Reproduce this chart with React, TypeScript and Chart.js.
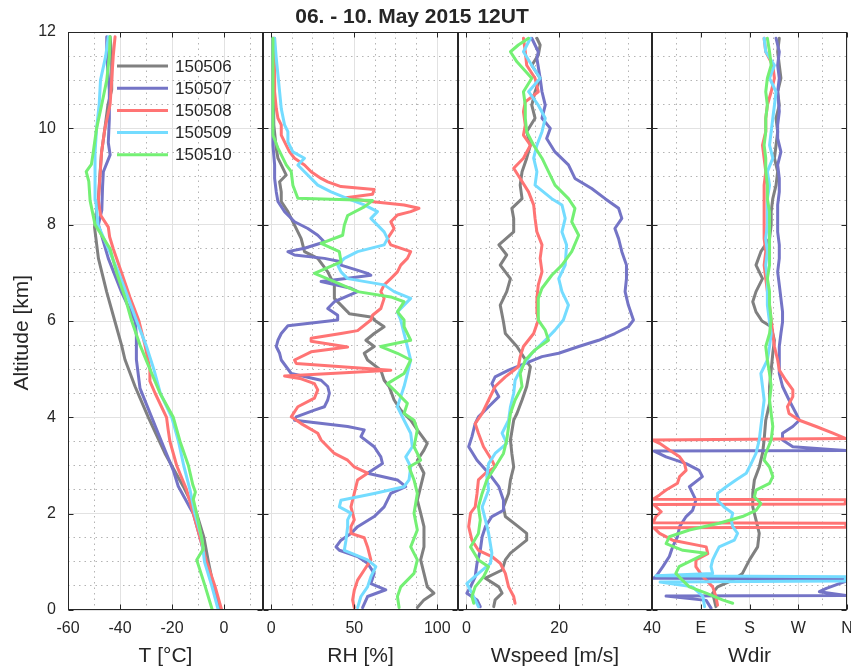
import React, { useEffect, useRef } from 'react';
import { Chart, registerables } from 'chart.js';

Chart.register(...registerables);

// ---------------- data ----------------
const TITLE = '06. - 10. May 2015 12UT';
const SERIES = ['150506', '150507', '150508', '150509', '150510'];
const COLORS = ['#808080', '#7474c6', '#ff7474', '#74dcff', '#74f074'];

const Y_TICKS = [0, 2, 4, 6, 8, 10, 12];
const Y_MINOR = [0.5, 1, 1.5, 2.5, 3, 3.5, 4.5, 5, 5.5, 6.5, 7, 7.5, 8.5, 9, 9.5, 10.5, 11, 11.5];

const T_TICKS = [-60, -40, -20, 0];
const T_MINOR = [-50, -30, -10, 10];
const RH_TICKS = [0, 50, 100];
const RH_MINOR = [12.5, 25, 37.5, 62.5, 75, 87.5];
const WS_TICKS = [0, 20, 40];
const WS_MINOR = [5, 10, 15, 25, 30, 35];
const WD_TICKS = [0, 90, 180, 270, 360];
const WD_LABELS = ['', 'E', 'S', 'W', 'N'];
const WD_MINOR = [45, 135, 225, 315];

// [altitude km, value]
const T_150506 = [[0,-1.5],[0.5,-4.1],[1,-6],[1.5,-7.7],[2,-10.5],[2.56,-15.6],[3.25,-22.7],[4,-29.1],[4.64,-34.2],[5.2,-38.1],[5.5,-39.4],[6,-42],[6.6,-45.1],[7.3,-48.3],[7.95,-49.8],[8.3,-49],[8.55,-48.3],[9.05,-47.7],[9.5,-47.1],[10,-45.8],[10.5,-44.6],[10.8,-43.2],[11.5,-43.2],[11.9,-43.8]];
const T_150507 = [[0,-1.5],[0.48,-4.1],[0.97,-6.7],[1.5,-9.2],[2,-11.8],[2.57,-17.6],[2.9,-19.5],[3.4,-23.3],[4,-27.8],[4.6,-32.3],[5.2,-33.7],[5.7,-33.7],[6,-34.2],[6.6,-39.4],[7.3,-44.5],[8,-48.3],[8.3,-47],[8.8,-46.7],[9.1,-46.4],[9.45,-43.8],[9.7,-44.5],[10.2,-44.1],[10.8,-44.1],[11.5,-45.1],[11.9,-45.1]];
const T_150508 = [[0,-0.9],[0.5,-3.5],[1,-6.7],[1.5,-9.2],[2,-11.8],[2.5,-14.4],[3,-18.2],[3.5,-20.8],[3.75,-21.5],[4,-22.1],[4.5,-26.5],[4.75,-28.5],[5,-28.5],[5.5,-30.4],[6,-32.7],[6.5,-36.2],[7,-39.4],[7.5,-42.6],[7.75,-44],[7.95,-44.5],[8.2,-47.5],[8.5,-48.3],[9,-47.7],[9.5,-47.1],[10,-45.8],[10.5,-43.8],[11,-43.2],[11.5,-42.6],[11.9,-41.9]];
const T_150509 = [[0,-2.2],[0.5,-4.7],[1,-7.5],[1.5,-8.6],[2,-11.2],[2.5,-13.1],[3,-15.5],[3.5,-17.5],[4,-20.1],[4.5,-24.5],[5,-27],[5.5,-30],[6,-33.6],[6.5,-37],[7,-40.5],[7.5,-44.5],[8,-48.5],[8.5,-49.3],[9,-49.6],[9.5,-49.6],[10,-49],[10.5,-48],[11,-47.5],[11.5,-45.5],[11.9,-44.5]];
const T_150510 = [[0,-4.5],[0.5,-7.3],[1.04,-10.5],[1.27,-7.9],[1.5,-8.6],[2,-10.5],[2.3,-11.8],[2.45,-11],[2.6,-12],[3,-13.7],[3.5,-16.9],[4,-19.5],[4.5,-24.6],[5,-28.5],[5.5,-32.3],[6,-35.5],[6.5,-38.1],[7,-41.3],[7.5,-43.8],[8,-49.6],[8.5,-51.5],[8.9,-52],[9.1,-53],[9.25,-51],[9.5,-50.3],[10,-49],[10.5,-47],[11,-45.1],[11.5,-44.1],[11.9,-43.8]];

const RH_150506 = [[0.05,88],[0.21,92],[0.35,98],[0.48,94],[0.76,92],[1.04,90],[1.31,92],[1.73,92],[2.01,90],[2.28,88],[2.56,90],[2.84,92],[3.11,88],[3.32,92],[3.46,94],[3.74,88],[3.94,84],[4.15,78],[4.36,74],[4.64,71],[4.77,68],[4.98,66],[5.19,58],[5.33,56],[5.47,62],[5.6,57],[5.74,62],[5.88,68],[6.02,62],[6.08,61],[6.15,47],[6.19,46],[6.47,38],[6.75,38],[7.02,34],[7.3,28],[7.44,20],[7.71,18],[7.99,14],[8.27,10],[8.48,6],[8.68,6],[8.89,5],[9.03,9],[9.24,6],[9.38,4],[9.58,3],[10.07,1.5],[11.87,1]];
const RH_150507 = [[0.05,55],[0.28,58],[0.42,69],[0.55,60],[0.76,62],[0.97,58],[1.11,52],[1.24,41],[1.31,39],[1.45,42],[1.59,48],[1.73,52],[1.94,62],[2.14,68],[2.28,70],[2.42,72],[2.56,81],[2.7,76],[2.84,58],[3.04,67],[3.18,66],[3.39,62],[3.6,54],[3.74,56],[3.81,46],[3.94,14],[4.01,15],[4.15,26],[4.22,32],[4.36,34],[4.5,35],[4.64,34],[4.77,30],[4.91,12],[5.05,9],[5.19,6],[5.33,5],[5.47,3],[5.6,4],[5.74,6],[5.9,10],[6.02,40],[6.12,40],[6.26,34],[6.4,38],[6.61,52],[6.68,48],[6.82,30],[6.88,45],[6.95,60],[6.99,58],[7.16,42],[7.23,42],[7.3,32],[7.37,14],[7.44,10],[7.51,20],[7.64,32],[7.78,28],[7.92,22],[8.06,14],[8.27,8],[8.48,4],[8.68,3],[8.96,2],[9.24,2],[9.65,1],[11.87,1]];
const RH_150508 = [[0.05,50],[0.21,49],[0.41,50],[0.62,52],[0.83,56],[1.04,60],[1.31,58],[1.5,56],[1.59,48],[1.73,48],[1.87,50],[2.14,48],[2.42,50],[2.7,52],[2.84,58],[2.97,50],[3.11,46],[3.25,38],[3.39,34],[3.53,30],[3.67,28],[3.87,18],[4.01,12],[4.22,16],[4.4,26],[4.57,28],[4.7,26],[4.8,18],[4.86,8],[4.98,72],[5.12,15],[5.19,14],[5.36,24],[5.46,46],[5.58,24],[5.64,24],[5.74,42],[5.8,52],[6.02,60],[6.12,61],[6.26,66],[6.47,68],[6.61,66],[6.75,68],[6.88,72],[7.02,76],[7.16,78],[7.3,82],[7.44,84],[7.58,72],[7.71,70],[7.92,74],[8.06,72],[8.2,76],[8.27,84],[8.34,89],[8.41,80],[8.48,60],[8.56,45],[8.63,61],[8.73,62],[8.79,42],[8.89,34],[8.96,30],[9.1,24],[9.24,20],[9.38,14],[9.51,11],[9.72,8],[9.86,6],[10.07,6],[10.21,4],[10.41,3],[10.76,2],[11.87,2]];
const RH_150509 = [[0.05,52],[0.28,54],[0.48,58],[0.69,60],[0.9,63],[1.04,58],[1.24,44],[1.45,45],[1.73,46],[1.87,46],[2.01,48],[2.14,41],[2.28,42],[2.42,62],[2.56,80],[2.7,83],[2.97,84],[3.18,81],[3.39,85],[3.67,84],[3.94,80],[4.22,76],[4.43,78],[4.64,80],[4.91,82],[5.19,84],[5.47,82],[5.74,80],[6.02,78],[6.19,76],[6.33,80],[6.47,84],[6.61,74],[6.75,68],[6.88,46],[7.02,42],[7.16,40],[7.3,44],[7.44,52],[7.58,68],[7.71,70],[7.85,68],[7.99,64],[8.13,60],[8.27,64],[8.41,56],[8.54,46],[8.68,36],[8.82,28],[8.96,24],[9.1,20],[9.24,16],[9.38,20],[9.51,13],[9.72,10],[9.93,10],[10.07,8],[10.41,6],[10.76,5],[11.11,4],[11.45,3],[11.87,2]];
const RH_150510 = [[0.05,77],[0.28,76],[0.48,78],[0.76,86],[1.04,88],[1.31,84],[1.66,88],[2.01,86],[2.42,88],[2.7,86],[2.97,83],[3.11,90],[3.39,86],[3.74,88],[3.94,86],[4.08,80],[4.29,82],[4.5,76],[4.7,70],[4.91,80],[5.19,84],[5.33,76],[5.47,66],[5.6,84],[5.88,80],[6.02,80],[6.19,76],[6.4,80],[6.5,72],[6.61,52],[6.82,38],[6.99,26],[7.23,42],[7.44,41],[7.61,30],[7.78,43],[7.99,44],[8.19,46],[8.37,56],[8.5,61],[8.55,16],[8.82,13],[9.1,12],[9.24,9],[9.59,4],[9.86,1],[11.87,1]];

const WS_150506 = [[0.07,5.9],[0.21,6.2],[0.35,7.7],[0.48,7],[0.66,4.1],[0.83,7.7],[1.04,8.4],[1.18,9.5],[1.45,13],[1.59,13],[1.73,11.2],[1.94,8.4],[2.14,8],[2.42,9.1],[2.7,9.5],[2.97,10.2],[3.25,9.8],[3.53,9.5],[3.94,10.2],[4.08,10.9],[4.36,12],[4.64,13],[4.84,13.4],[5.05,13.8],[5.26,12.3],[5.47,10.9],[5.74,8.4],[5.98,8],[6.33,7.3],[6.61,8.7],[6.88,9.5],[7.16,7.3],[7.37,8.7],[7.58,7],[7.85,10.2],[8.13,10.2],[8.34,9.8],[8.54,12],[8.82,11.6],[9.1,12],[9.38,13],[9.65,13.8],[9.93,13],[10.21,14.8],[10.48,14.1],[10.76,14.8],[11.04,15.9],[11.31,14.1],[11.52,15.5],[11.73,15.9],[11.87,15.2]];
const WS_150507 = [[0.07,3],[0.21,2.3],[0.35,0.1],[0.48,0.9],[0.69,1.9],[0.97,2.3],[1.24,3],[1.52,3.4],[1.73,4.1],[1.94,5.5],[2.07,8],[2.28,8],[2.56,7],[2.84,4.8],[3.11,2.3],[3.39,0.5],[3.6,1.2],[3.87,1.9],[4.01,2.6],[4.22,4.8],[4.43,7],[4.57,6.2],[4.7,5.5],[4.84,6.2],[4.98,9.1],[5.12,12.7],[5.26,16.3],[5.33,19.9],[5.47,24.2],[5.6,28.5],[5.74,32],[5.88,34.9],[6.02,36],[6.33,34.9],[6.61,34.2],[6.88,34.5],[7.16,34.5],[7.44,33.5],[7.71,32.8],[7.92,32],[8.13,33.5],[8.34,32.8],[8.54,29.9],[8.75,27],[8.96,23.4],[9.24,22],[9.51,19.1],[9.79,17.3],[10,18.1],[10.21,16.3],[10.48,17],[10.76,16.3],[11.04,15.9],[11.45,15.2],[11.59,15.5],[11.87,14.1]];
const WS_150508 = [[0.14,10.5],[0.28,10.2],[0.48,9.1],[0.76,8.4],[0.97,7.3],[1.11,5.5],[1.24,2.6],[1.45,1.2],[1.73,0.5],[2.01,0.9],[2.14,1.9],[2.42,2.3],[2.7,2.6],[2.84,4.1],[2.97,6.2],[3.11,5.5],[3.39,3.7],[3.67,2.6],[3.87,1.9],[4.08,3.4],[4.36,4.8],[4.64,6.2],[4.84,8.4],[5.05,11.2],[5.26,11.6],[5.47,12.3],[5.74,14.5],[6.02,15.5],[6.19,15.2],[6.47,15.2],[6.75,15.5],[7.02,16.3],[7.3,15.9],[7.58,16.3],[7.85,15.2],[8.13,14.8],[8.41,14.5],[8.68,13.4],[8.96,11.6],[9.17,10.2],[9.38,12.3],[9.65,13.8],[9.86,12.3],[10.07,12.7],[10.35,12.3],[10.55,12.7],[10.76,15.5],[11.04,14.8],[11.31,13],[11.59,12.7],[11.87,12.3]];
const WS_150509 = [[0.07,2.6],[0.35,1.2],[0.55,0.1],[0.76,2.6],[0.97,5.2],[1.18,5.5],[1.59,4.8],[1.87,4.1],[2.14,3.4],[2.49,4.8],[2.77,4.4],[3.04,4.8],[3.25,6.2],[3.46,8.7],[3.67,7.7],[3.94,9.1],[4.22,9.5],[4.5,10.2],[4.77,10.5],[5.05,12],[5.33,14.1],[5.6,17],[5.81,19.1],[6.02,20.9],[6.33,22],[6.61,20.6],[6.88,19.9],[7.16,21.3],[7.58,21.6],[7.85,20.6],[8.13,21.3],[8.41,20.6],[8.54,18.4],[8.82,14.8],[9.1,15.2],[9.38,14.5],[9.65,15.2],[9.93,16.3],[10.21,17],[10.48,15.5],[10.76,13.4],[11.04,15.9],[11.31,14.1],[11.59,12.3],[11.87,13.8]];
const WS_150510 = [[0.14,1.6],[0.28,1.2],[0.48,1.9],[0.69,3.7],[0.9,4.8],[1.04,2.6],[1.31,0.9],[1.59,2.6],[1.87,3],[2.14,2.6],[2.42,3.4],[2.7,4.4],[2.97,6.2],[3.25,8],[3.53,8.7],[3.81,9.1],[4.08,9.5],[4.36,10.5],[4.64,12],[4.91,11.6],[5.19,12.7],[5.4,14.8],[5.6,17.7],[5.81,17],[6.02,15.5],[6.19,15.5],[6.47,15.5],[6.68,16.3],[6.95,18.4],[7.16,20.6],[7.44,22.7],[7.78,24.2],[8.06,22.7],[8.34,23.4],[8.54,22],[8.82,19.1],[9.1,17.7],[9.38,16.3],[9.65,14.5],[9.93,13],[10.21,12.7],[10.48,12.7],[10.76,12.3],[11.04,14.1],[11.38,10.9],[11.59,9.5],[11.73,11.2],[11.87,13.4]];

const WD_150506 = [[0.07,118],[0.21,115],[0.35,112],[0.48,121],[0.62,149],[0.76,167],[1.04,180],[1.31,195],[1.59,198],[1.87,192],[2.14,186],[2.42,186],[2.7,189],[2.97,198],[3.25,204],[3.53,207],[3.94,210],[4.29,217],[4.64,217],[4.98,220],[5.33,223],[5.6,226],[5.88,220],[6.0,203],[6.19,192],[6.4,186],[6.61,192],[6.88,204],[7.16,192],[7.44,201],[7.71,217],[7.99,220],[8.27,220],[8.54,223],[8.82,229],[9.1,232],[9.38,226],[9.65,229],[9.93,232],[10.21,229],[10.48,235],[10.76,232],[11.04,238],[11.31,235],[11.59,232],[11.87,235]];
const WD_150507 = [[0.04,109],[0.2,100],[0.29,26],[0.3,358],[0.38,309],[0.45,322],[0.59,356],[0.65,358],[0.66,2],[0.69,7],[0.9,20],[1.11,32],[1.31,38],[1.52,47],[1.73,51],[1.94,63],[2.07,75],[2.28,81],[2.42,75],[2.56,69],[2.77,93],[2.9,87],[3.04,63],[3.18,26],[3.3,4],[3.31,358],[3.33,330],[3.39,260],[3.53,241],[3.67,241],[3.81,260],[3.94,272],[4.08,266],[4.36,253],[4.64,241],[4.91,235],[5.19,235],[5.47,235],[5.74,238],[5.98,241],[6.19,241],[6.47,238],[6.75,235],[7.02,232],[7.3,235],[7.58,235],[7.85,232],[8.13,232],[8.41,232],[8.68,235],[8.96,235],[9.24,232],[9.51,238],[9.79,232],[10.07,232],[10.35,235],[10.76,232],[11.04,235],[11.31,232],[11.59,235],[11.87,229]];
const WD_150508 = [[0.1,121],[0.28,118],[0.48,112],[0.69,94],[0.9,81],[1.04,81],[1.17,103],[1.31,100],[1.45,38],[1.59,14],[1.71,3],[1.72,357],[1.8,358],[1.81,2],[1.94,7],[2.04,17],[2.19,3],[2.2,356],[2.29,358],[2.3,2],[2.39,14],[2.49,26],[2.63,47],[2.77,51],[2.9,63],[3.04,60],[3.18,51],[3.32,32],[3.46,14],[3.53,1],[3.56,358],[3.67,334],[3.81,303],[3.94,272],[4.08,253],[4.22,250],[4.43,260],[4.57,260],[4.77,247],[4.98,235],[5.19,232],[5.47,226],[5.74,223],[6.02,220],[6.33,217],[6.61,213],[6.88,210],[7.16,207],[7.44,210],[7.71,207],[7.99,207],[8.27,207],[8.54,207],[8.82,207],[9.1,210],[9.38,207],[9.65,204],[9.93,210],[10.21,210],[10.48,213],[10.76,220],[11.04,226],[11.31,223],[11.59,210],[11.87,207]];
const WD_150509 = [[0.07,97],[0.28,94],[0.48,75],[0.58,15],[0.6,356],[0.69,358],[0.71,7],[0.76,112],[0.9,109],[1.04,112],[1.18,118],[1.31,124],[1.45,152],[1.59,158],[1.73,149],[1.87,146],[2.01,149],[2.14,133],[2.28,121],[2.42,121],[2.56,137],[2.7,155],[2.84,174],[3.04,183],[3.25,192],[3.53,198],[3.81,201],[4.08,204],[4.36,207],[4.64,204],[4.91,201],[5.19,213],[5.47,217],[5.74,220],[5.98,217],[6.33,213],[6.61,213],[6.88,213],[7.16,210],[7.44,213],[7.71,210],[7.99,213],[8.27,213],[8.54,213],[8.82,217],[9.1,213],[9.38,223],[9.65,217],[9.93,220],[10.21,223],[10.48,226],[10.76,229],[11.04,217],[11.31,226],[11.59,210],[11.87,207]];
const WD_150510 = [[0.14,149],[0.21,130],[0.35,100],[0.48,69],[0.62,56],[0.76,44],[0.9,50],[1.07,81],[1.18,100],[1.24,57],[1.38,26],[1.52,32],[1.66,69],[1.8,124],[1.94,167],[2.07,192],[2.21,201],[2.35,189],[2.49,192],[2.63,217],[2.77,223],[2.97,217],[3.11,207],[3.25,210],[3.53,220],[3.81,223],[4.08,220],[4.36,217],[4.64,220],[4.91,217],[5.19,213],[5.47,210],[5.74,217],[6.02,220],[6.33,217],[6.61,217],[6.88,213],[7.16,217],[7.44,217],[7.71,217],[7.99,217],[8.27,217],[8.54,213],[8.82,213],[9.1,210],[9.38,210],[9.65,207],[9.93,210],[10.21,210],[10.48,213],[10.76,210],[11.04,213],[11.31,220],[11.59,217],[11.87,213]];

// ---------------- styling / layout ----------------
const FONT = "'Liberation Sans', Arial, Helvetica, sans-serif";
const TEXT = '#262626';
const MAJOR_GRID = '#e2e2e2';
const MINOR_GRID = '#b4b4b4';
const W = 851;
const H = 670;

type Panel = {
  min: number; max: number; ticks: number[]; labels?: string[]; minor: number[];
  title: string; profiles: number[][][]; padLeft: number; padRight: number;
};

const PANELS: Panel[] = [
  { min: -60, max: 15, ticks: T_TICKS, minor: T_MINOR, title: 'T [°C]',
    profiles: [T_150506, T_150507, T_150508, T_150509, T_150510], padLeft: 0, padRight: W - 263 },
  { min: -5, max: 112.5, ticks: RH_TICKS, minor: RH_MINOR, title: 'RH [%]',
    profiles: [RH_150506, RH_150507, RH_150508, RH_150509, RH_150510], padLeft: 263, padRight: W - 458 },
  { min: -1.8, max: 40, ticks: WS_TICKS, minor: WS_MINOR, title: 'Wspeed [m/s]',
    profiles: [WS_150506, WS_150507, WS_150508, WS_150509, WS_150510], padLeft: 458, padRight: W - 652 },
  { min: 0, max: 360, ticks: WD_TICKS, labels: WD_LABELS, minor: WD_MINOR, title: 'Wdir',
    profiles: [WD_150506, WD_150507, WD_150508, WD_150509, WD_150510], padLeft: 652, padRight: W - 847 },
];

const framePlugin = {
  id: 'frame',
  afterDatasetsDraw(chart: any) {
    const { ctx, chartArea: a, scales } = chart;
    ctx.save();
    ctx.strokeStyle = TEXT;
    ctx.lineWidth = 1;
    const l = Math.round(a.left) + 0.5, r = Math.round(a.right) - 0.5;
    const t = Math.round(a.top) + 0.5, b = Math.round(a.bottom) - 0.5;
    ctx.strokeRect(l, t, r - l, b - t);
    const tl = 5;
    ctx.beginPath();
    for (const tk of scales.x.ticks) {
      const x = Math.round(scales.x.getPixelForValue(tk.value)) + 0.5;
      ctx.moveTo(x, b); ctx.lineTo(x, b - tl);
      ctx.moveTo(x, t); ctx.lineTo(x, t + tl);
    }
    for (const tk of scales.y.ticks) {
      const y = Math.round(scales.y.getPixelForValue(tk.value)) + 0.5;
      ctx.moveTo(l, y); ctx.lineTo(l + tl, y);
      ctx.moveTo(r, y); ctx.lineTo(r - tl, y);
    }
    ctx.stroke();
    ctx.restore();
  },
};

const figurePlugin = {
  id: 'figureText',
  afterDraw(chart: any) {
    const { ctx } = chart;
    ctx.save();
    ctx.fillStyle = TEXT;
    ctx.font = `bold 21px ${FONT}`;
    ctx.textAlign = 'center';
    ctx.textBaseline = 'middle';
    ctx.fillText(TITLE, 412, 17);
    ctx.font = `17px ${FONT}`;
    ctx.textAlign = 'left';
    chart.data.datasets.forEach((ds: any, i: number) => {
      const y = 66 + i * 22.2;
      ctx.strokeStyle = ds.borderColor;
      ctx.lineWidth = 3;
      ctx.beginPath();
      ctx.moveTo(117, y);
      ctx.lineTo(168, y);
      ctx.stroke();
      ctx.fillText(ds.label, 175, y + 1);
    });
    ctx.restore();
  },
};

function makeConfig(p: Panel, idx: number): any {
  const first = idx === 0;
  const tickFont = { family: FONT, size: 16 };
  const titleFont = { family: FONT, size: 21 };
  return {
    type: 'scatter',
    data: {
      datasets: SERIES.map((name, i) => ({
        label: name,
        data: p.profiles[i].map(([alt, v]) => ({ x: v, y: alt })),
        showLine: true,
        borderColor: COLORS[i],
        backgroundColor: COLORS[i],
        borderWidth: 3,
        pointRadius: 0,
        pointHoverRadius: 0,
        tension: 0,
        fill: false,
        borderJoinStyle: 'round',
        borderCapStyle: 'round',
        order: SERIES.length - 1 - i,
      })),
    },
    options: {
      animation: false,
      responsive: false,
      maintainAspectRatio: false,
      events: [],
      layout: { padding: { left: p.padLeft, right: p.padRight, top: 32, bottom: 0 } },
      plugins: { legend: { display: false }, tooltip: { enabled: false }, title: { display: false } },
      scales: {
        x: {
          type: 'linear', position: 'bottom', min: p.min, max: p.max,
          afterBuildTicks: (s: any) => { s.ticks = p.ticks.map((v) => ({ value: v })); },
          afterFit: (s: any) => { s.height = 60; s.paddingLeft = 0; s.paddingRight = 0; },
          grid: { color: MAJOR_GRID, lineWidth: 1, drawTicks: false },
          border: { display: false },
          ticks: {
            padding: 9, color: TEXT, font: tickFont, maxRotation: 0, minRotation: 0, autoSkip: false,
            callback: (v: number, i: number) => (p.labels ? p.labels[i] : String(v)),
          },
          title: { display: true, text: p.title, color: TEXT, font: titleFont, padding: { top: 0, bottom: 1 } },
        },
        xMinor: {
          type: 'linear', position: 'bottom', min: p.min, max: p.max,
          afterBuildTicks: (s: any) => { s.ticks = p.minor.map((v) => ({ value: v })); },
          afterFit: (s: any) => { s.height = 0; s.paddingLeft = 0; s.paddingRight = 0; },
          grid: { color: MINOR_GRID, lineWidth: 1, drawTicks: false },
          border: { display: false, dash: [1.5, 4] },
          ticks: { display: false },
        },
        y: {
          type: 'linear', position: 'left', min: 0, max: 12,
          afterBuildTicks: (s: any) => { s.ticks = Y_TICKS.map((v) => ({ value: v })); },
          afterFit: (s: any) => { s.width = first ? 68 : 0; s.paddingTop = 0; s.paddingBottom = 0; },
          grid: { color: MAJOR_GRID, lineWidth: 1, drawTicks: false },
          border: { display: false },
          ticks: { display: first, padding: 12, color: TEXT, font: tickFont, callback: (v: number) => String(v) },
          title: { display: first, text: 'Altitude [km]    ', color: TEXT, font: titleFont, padding: { top: 10, bottom: 0 } },
        },
        yMinor: {
          type: 'linear', position: 'left', min: 0, max: 12,
          afterBuildTicks: (s: any) => { s.ticks = Y_MINOR.map((v) => ({ value: v })); },
          afterFit: (s: any) => { s.width = 0; s.paddingTop = 0; s.paddingBottom = 0; },
          grid: { color: MINOR_GRID, lineWidth: 1, drawTicks: false },
          border: { display: false, dash: [1.5, 4] },
          ticks: { display: false },
        },
      },
    },
    plugins: first ? [framePlugin, figurePlugin] : [framePlugin],
  };
}

export default function App() {
  const holder = useRef<HTMLDivElement | null>(null);

  useEffect(() => {
    const root = holder.current;
    if (!root) return;
    const canvases: HTMLCanvasElement[] = [];
    const charts = PANELS.map((p, i) => {
      const c = document.createElement('canvas');
      c.width = W;
      c.height = H;
      c.style.position = 'absolute';
      c.style.left = '0px';
      c.style.top = '0px';
      c.style.width = W + 'px';
      c.style.height = H + 'px';
      root.appendChild(c);
      canvases.push(c);
      return new Chart(c, makeConfig(p, i));
    });
    return () => {
      charts.forEach((ch) => ch.destroy());
      canvases.forEach((c) => c.remove());
    };
  }, []);

  return (
    <div
      ref={holder}
      style={{ position: 'fixed', left: 0, top: 0, width: W, height: H, background: '#ffffff', overflow: 'hidden' }}
    />
  );
}
